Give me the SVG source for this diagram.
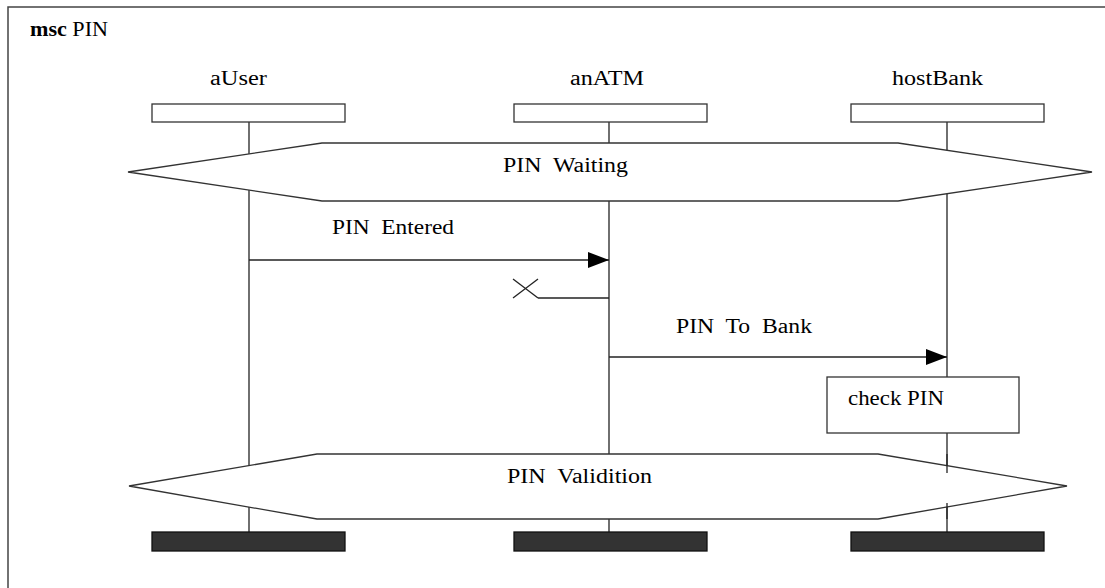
<svg xmlns="http://www.w3.org/2000/svg" width="1105" height="588" viewBox="0 0 1105 588">
<style>
text{font-family:"Liberation Serif","Times New Roman",serif;font-size:20px;fill:#000;white-space:pre}
.ln{stroke:#222;stroke-width:1.3;fill:none}
.box{fill:#fff;stroke:#333;stroke-width:1.3}
.end{fill:#333;stroke:#111;stroke-width:1.3}
.cond{fill:#fff;stroke:#333;stroke-width:1.3}
</style>
<defs>
<marker id="ah" markerWidth="21" markerHeight="16" refX="21" refY="8" orient="auto" markerUnits="userSpaceOnUse">
<path d="M0,0 L21,8 L0,16 Z" fill="#000"/>
</marker>
</defs>
<rect x="0" y="0" width="1105" height="588" fill="#fff"/>
<rect x="8" y="7" width="1110" height="600" fill="none" stroke="#444" stroke-width="1.5"/>
<text x="30" y="36" textLength="78" lengthAdjust="spacingAndGlyphs"><tspan font-weight="bold">msc</tspan> PIN</text>

<g id="aUser">
<text x="210" y="85" textLength="57" lengthAdjust="spacingAndGlyphs">aUser</text>
<line class="ln" x1="249" y1="122" x2="249" y2="532"/>
<rect class="box" x="152" y="104" width="193" height="18"/>
<rect class="end" x="152" y="532" width="193" height="19"/>
</g>
<g id="anATM">
<text x="570" y="85" textLength="74" lengthAdjust="spacingAndGlyphs">anATM</text>
<line class="ln" x1="609" y1="122" x2="609" y2="532"/>
<rect class="box" x="514" y="104" width="193" height="18"/>
<rect class="end" x="514" y="532" width="193" height="19"/>
</g>
<g id="hostBank">
<text x="892" y="85" textLength="91" lengthAdjust="spacingAndGlyphs">hostBank</text>
<line class="ln" x1="947" y1="122" x2="947" y2="532"/>
<rect class="box" x="851" y="104" width="193" height="18"/>
<rect class="end" x="851" y="532" width="193" height="19"/>
</g>

<g id="cond-waiting">
<polygon class="cond" points="128,172 322,143 898,143 1092,172 898,201 322,201"/>
<text x="503" y="172" textLength="125" lengthAdjust="spacingAndGlyphs" xml:space="preserve">PIN  Waiting</text>
</g>

<g id="action-check">
<rect class="box" x="827" y="377" width="192" height="56"/>
<text x="848" y="405" textLength="96" lengthAdjust="spacingAndGlyphs">check PIN</text>
</g>

<g id="cond-validition">
<polygon class="cond" points="129,486 317,454 878,454 1067,486 878,519 317,519"/>
<line class="ln" x1="947" y1="454" x2="947" y2="473"/>
<line class="ln" x1="947" y1="503" x2="947" y2="519"/>
<text x="507" y="483" textLength="145" lengthAdjust="spacingAndGlyphs" xml:space="preserve">PIN  Validition</text>
</g>

<g id="connectors">
<line class="ln" x1="249" y1="260" x2="609" y2="260" marker-end="url(#ah)"/>
<text x="332" y="234" textLength="122" lengthAdjust="spacingAndGlyphs" xml:space="preserve">PIN  Entered</text>
<polyline class="ln" points="609,298 538,298"/>
<line class="ln" x1="513" y1="279" x2="538" y2="298"/>
<line class="ln" x1="513" y1="298" x2="538" y2="279"/>
<line class="ln" x1="609" y1="357" x2="947" y2="357" marker-end="url(#ah)"/>
<text x="676" y="333" textLength="136" lengthAdjust="spacingAndGlyphs" xml:space="preserve">PIN  To  Bank</text>
</g>
</svg>
